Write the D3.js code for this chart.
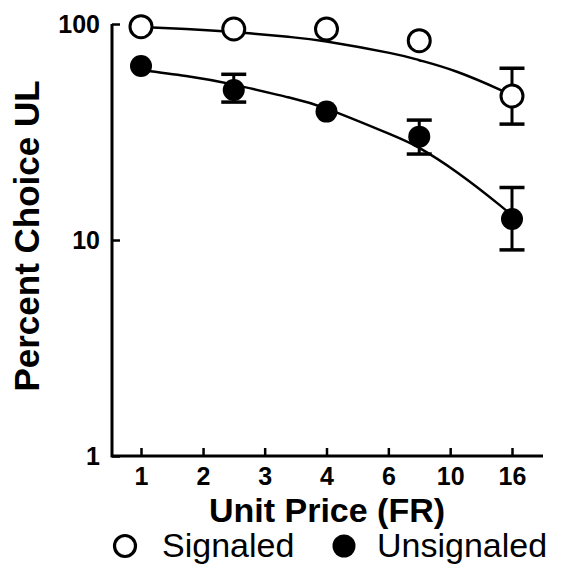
<!DOCTYPE html>
<html>
<head>
<meta charset="utf-8">
<script src="https://cdn.jsdelivr.net/npm/d3@7"></script>
<style>
  body { margin: 0; background: #fff; }
  svg { display: block; }
  text { font-family: "Liberation Sans", Arial, sans-serif; fill: #000; }
</style>
</head>
<body>
<svg id="chart" width="561" height="566"></svg>
<script>
// Data
const unitPrice = [1, 2, 4, 8, 16];
const signaled = [97.2, 94.8, 94.8, 83.7, 46.4];
const signaledLo = [null, null, null, null, 34.4];
const signaledHi = [null, null, null, null, 62.4];
const unsignaled = [63.9, 49.5, 39.3, 30.1, 12.5];
const unsignaledLo = [null, 43.5, null, 25.0, 9.0];
const unsignaledHi = [null, 58.5, null, 35.9, 17.5];

// fitted curves, sampled along the drawn lines
const fitPrice = [1, 1.4, 2, 3, 4, 6.4, 8, 10.6, 14.6, 16];
const signaledFit = [96.9, 94.8, 91.8, 87.2, 83.0, 73.5, 68.0, 60.1, 49.7, 46.7];
const unsignaledFit = [61.2, 57.4, 52.4, 45.8, 40.6, 31.0, 26.7, 20.6, 14.5, 12.9];

// axis ticks
const xTickVals = [1, 1.59, 2.52, 4, 6.35, 10.08, 16];
const xTickLabels = ["1", "2", "3", "4", "6", "10", "16"];
const yTickVals = [1, 10, 100];

const svg = d3.select("#chart");

const axisLeft = 112, axisRight = 543, axisBottom = 456, axisTop = 24;

const x = d3.scaleLog().base(2).domain([1, 16]).range([141, 512]);
const y = d3.scaleLog().domain([1, 100]).range([axisBottom, axisTop]);

// === Axes ===
const xAxis = svg.append("g").attr("transform", `translate(0,${axisBottom})`)
  .call(d3.axisTop(x).tickValues(xTickVals).tickFormat((d, i) => xTickLabels[i]).tickSize(8).tickPadding(0));
xAxis.select(".domain").remove();
xAxis.selectAll(".tick line").attr("stroke", "#000").attr("stroke-width", 2.5);
xAxis.selectAll(".tick text")
  .attr("y", 29)
  .attr("font-size", 25)
  .attr("font-weight", "bold")
  .attr("font-family", "Liberation Sans, Arial, sans-serif");

const yAxis = svg.append("g").attr("transform", `translate(${axisLeft},0)`)
  .call(d3.axisRight(y).tickValues(yTickVals).tickFormat(d3.format("d")).tickSize(8));
yAxis.select(".domain").remove();
yAxis.selectAll(".tick line").attr("stroke", "#000").attr("stroke-width", 2.5);
yAxis.selectAll(".tick text")
  .attr("x", -12)
  .attr("dy", "0.35em")
  .attr("text-anchor", "end")
  .attr("font-size", 25)
  .attr("font-weight", "bold")
  .attr("font-family", "Liberation Sans, Arial, sans-serif");

// axis lines
svg.append("path")
  .attr("d", `M${axisLeft},${axisTop}V${axisBottom}H${axisRight}`)
  .attr("fill", "none")
  .attr("stroke", "#000")
  .attr("stroke-width", 3);

// axis titles
svg.append("text")
  .attr("x", 327)
  .attr("y", 522)
  .attr("text-anchor", "middle")
  .attr("font-size", 34)
  .attr("font-weight", "bold")
  .text("Unit Price (FR)");

svg.append("text")
  .attr("transform", "translate(39,236) rotate(-90)")
  .attr("text-anchor", "middle")
  .attr("font-size", 35)
  .attr("font-weight", "bold")
  .text("Percent Choice UL");

// === Fit curves ===
const line = d3.line()
  .x(d => x(d[0]))
  .y(d => y(d[1]))
  .curve(d3.curveNatural);

[signaledFit, unsignaledFit].forEach(fit => {
  svg.append("path")
    .datum(fitPrice.map((p, i) => [p, fit[i]]))
    .attr("fill", "none")
    .attr("stroke", "#000")
    .attr("stroke-width", 2.5)
    .attr("d", line);
});

// === Error bars + points ===
function drawSeries(vals, lo, hi, filled) {
  const g = svg.append("g");
  unitPrice.forEach((p, i) => {
    if (lo[i] == null) return;
    const cx = x(p);
    g.append("line").attr("x1", cx).attr("x2", cx).attr("y1", y(lo[i])).attr("y2", y(hi[i]))
      .attr("stroke", "#000").attr("stroke-width", 3);
    [lo[i], hi[i]].forEach(v => {
      g.append("line").attr("x1", cx - 12.5).attr("x2", cx + 12.5).attr("y1", y(v)).attr("y2", y(v))
        .attr("stroke", "#000").attr("stroke-width", 3.5);
    });
  });
  g.selectAll("circle").data(vals).join("circle")
    .attr("cx", (d, i) => x(unitPrice[i]))
    .attr("cy", d => y(d))
    .attr("r", 11)
    .attr("fill", filled ? "#000" : "#fff")
    .attr("stroke", "#000")
    .attr("stroke-width", filled ? 0 : 3);
}
drawSeries(signaled, signaledLo, signaledHi, false);
drawSeries(unsignaled, unsignaledLo, unsignaledHi, true);

// === Legend ===
const legend = svg.append("g");
legend.append("circle").attr("cx", 125).attr("cy", 546).attr("r", 10.5)
  .attr("fill", "#fff").attr("stroke", "#000").attr("stroke-width", 3.2);
legend.append("text").attr("x", 162).attr("y", 557).attr("font-size", 34).text("Signaled");
legend.append("circle").attr("cx", 344).attr("cy", 546).attr("r", 11.5).attr("fill", "#000");
legend.append("text").attr("x", 377).attr("y", 557).attr("font-size", 34).text("Unsignaled");
</script>
</body>
</html>
